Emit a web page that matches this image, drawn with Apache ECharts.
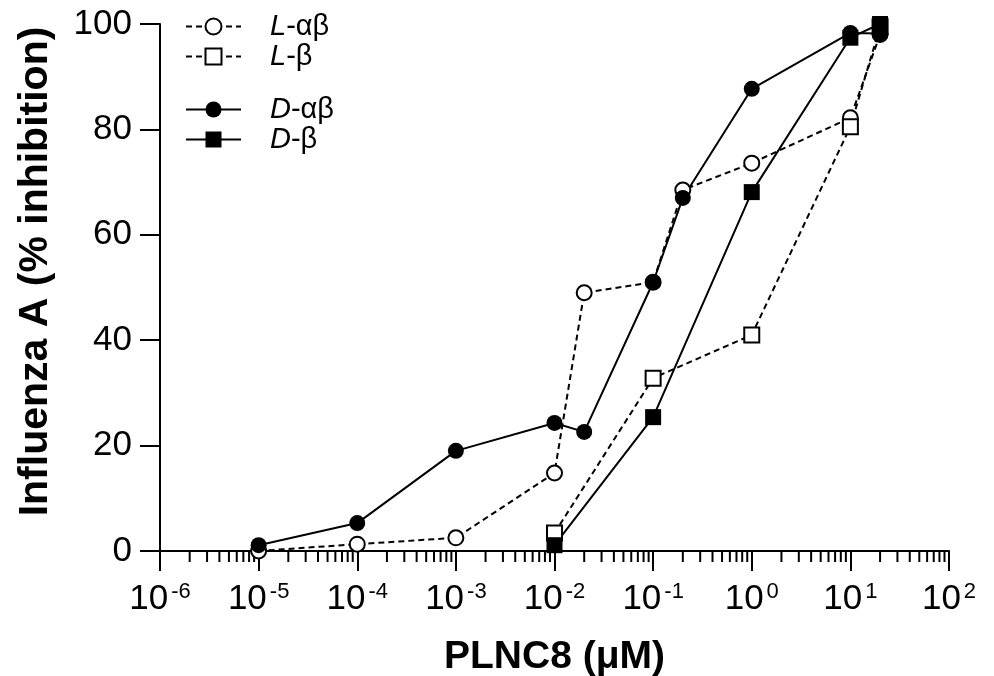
<!DOCTYPE html>
<html>
<head>
<meta charset="utf-8">
<script src="https://cdn.jsdelivr.net/npm/echarts@6/dist/echarts.min.js"></script>
<style>
  html, body { margin: 0; padding: 0; background: #fff; }
  #main { width: 994px; height: 676px; }
</style>
</head>
<body>
<div id="main"></div>
<script>
// doses (µM) and % inhibition
var dosesAB = [1e-5, 1e-4, 1e-3, 1e-2, 2e-2, 1e-1, 2e-1, 1, 10, 20];
var dosesB = [1e-2, 1e-1, 1, 10, 20];
var L_ab = [0, 1.3, 2.5, 14.8, 49, 51, 68.5, 73.6, 82.2, 98];
var L_b = [3.4, 32.8, 41, 80.5, 99.5];
var D_ab = [1.1, 5.3, 19, 24.3, 22.6, 51, 67, 87.7, 98.3, 98.2];
var D_b = [1.1, 25.4, 68.1, 97.4, 100];

var yTicks = [0, 20, 40, 60, 80, 100];
var decades = [-6, -5, -4, -3, -2, -1, 0, 1];
var minorMult = [2, 3, 4, 5, 6, 7, 8, 9];

var minorVals = [];
decades.forEach(function (d) {
  minorMult.forEach(function (m) { minorVals.push([m * Math.pow(10, d), 0]); });
});

function pairs(xs, ys) {
  return xs.map(function (x, i) { return [x, ys[i]]; });
}

var FONT = '"Liberation Sans", Arial, sans-serif';

var myChart = echarts.init(document.getElementById('main'));

function lineSeries(name, xs, ys, symbol, filled, dashed) {
  return {
    name: name,
    type: 'line',
    data: pairs(xs, ys),
    symbol: symbol,
    symbolSize: filled ? 16 : 15,
    showAllSymbol: true,
    clip: false,
    lineStyle: { color: '#000', width: 2, type: dashed ? [6, 4] : 'solid' },
    itemStyle: { color: filled ? '#000' : '#fff', borderColor: '#000', borderWidth: filled ? 0 : 2 },
    emphasis: { disabled: true }
  };
}

var legendText = {
  color: '#000',
  fontFamily: FONT,
  fontSize: 29,
  padding: [0, 0, 0, 24],
  rich: {
    i: { fontStyle: 'italic', fontFamily: FONT, fontSize: 29, color: '#000' },
    n: { fontFamily: FONT, fontSize: 29, color: '#000' }
  }
};
function legendFmt(name) {
  return '{i|' + name.charAt(0) + '}{n|' + name.slice(1) + '}';
}

var option = {
  animation: false,
  backgroundColor: '#fff',
  grid: { left: 160, right: 45, top: 24, bottom: 125, containLabel: false, outerBoundsMode: 'none' },
  legend: [
    {
      data: ['L-αβ', 'L-β'], orient: 'vertical', left: 180, top: 7,
      itemWidth: 55, itemHeight: 20, itemGap: 1,
      formatter: legendFmt, textStyle: legendText
    },
    {
      data: ['D-αβ', 'D-β'], orient: 'vertical', left: 180, top: 90,
      itemWidth: 55, itemHeight: 20, itemGap: 1,
      formatter: legendFmt, textStyle: legendText
    }
  ],
  xAxis: {
    type: 'log',
    logBase: 10,
    min: 1e-6,
    max: 100,
    name: 'PLNC8 (μM)',
    nameLocation: 'middle',
    nameGap: 87,
    nameTextStyle: { fontFamily: FONT, fontSize: 39, fontWeight: 'bold', color: '#000' },
    axisLine: { onZero: false, lineStyle: { color: '#000', width: 2 } },
    axisTick: { show: true, length: 20, lineStyle: { color: '#000', width: 2 } },
    minorTick: { show: false },
    splitLine: { show: false },
    axisLabel: {
      margin: 30,
      color: '#000',
      formatter: function (v) {
        var e = Math.round(Math.log(v) / Math.LN10);
        return '{b|10}{s|' + e + '}';
      },
      rich: {
        b: { fontFamily: FONT, fontSize: 35, color: '#000', lineHeight: 36 },
        s: { fontFamily: FONT, fontSize: 22, color: '#000', verticalAlign: 'top', padding: [0, 0, 14, 3] }
      }
    }
  },
  yAxis: {
    type: 'value',
    min: 0,
    max: 100,
    interval: 20,
    name: 'Influenza A (% inhibition)',
    nameLocation: 'middle',
    nameGap: 104,
    nameTextStyle: { fontFamily: FONT, fontSize: 41, fontWeight: 'bold', color: '#000', padding: [0, 0, 0, 32] },
    axisLine: { show: true, lineStyle: { color: '#000', width: 2 } },
    axisTick: { show: true, length: 20, lineStyle: { color: '#000', width: 2 } },
    splitLine: { show: false },
    axisLabel: {
      margin: 28, color: '#000', fontFamily: FONT, fontSize: 35,
      formatter: function (v) { return yTicks.indexOf(v) >= 0 ? String(v) : ''; }
    }
  },
  series: [
    {
      name: 'minor',
      type: 'custom',
      data: minorVals,
      clip: false,
      silent: true,
      z: 1,
      renderItem: function (params, api) {
        var p = api.coord([api.value(0), api.value(1)]);
        return {
          type: 'line',
          shape: { x1: p[0], y1: p[1], x2: p[0], y2: p[1] + 11 },
          style: { stroke: '#000', lineWidth: 2 }
        };
      }
    },
    lineSeries('L-αβ', dosesAB, L_ab, 'circle', false, true),
    lineSeries('L-β', dosesB, L_b, 'rect', false, true),
    lineSeries('D-αβ', dosesAB, D_ab, 'circle', true, false),
    lineSeries('D-β', dosesB, D_b, 'rect', true, false)
  ]
};
myChart.setOption(option);
</script>
</body>
</html>
